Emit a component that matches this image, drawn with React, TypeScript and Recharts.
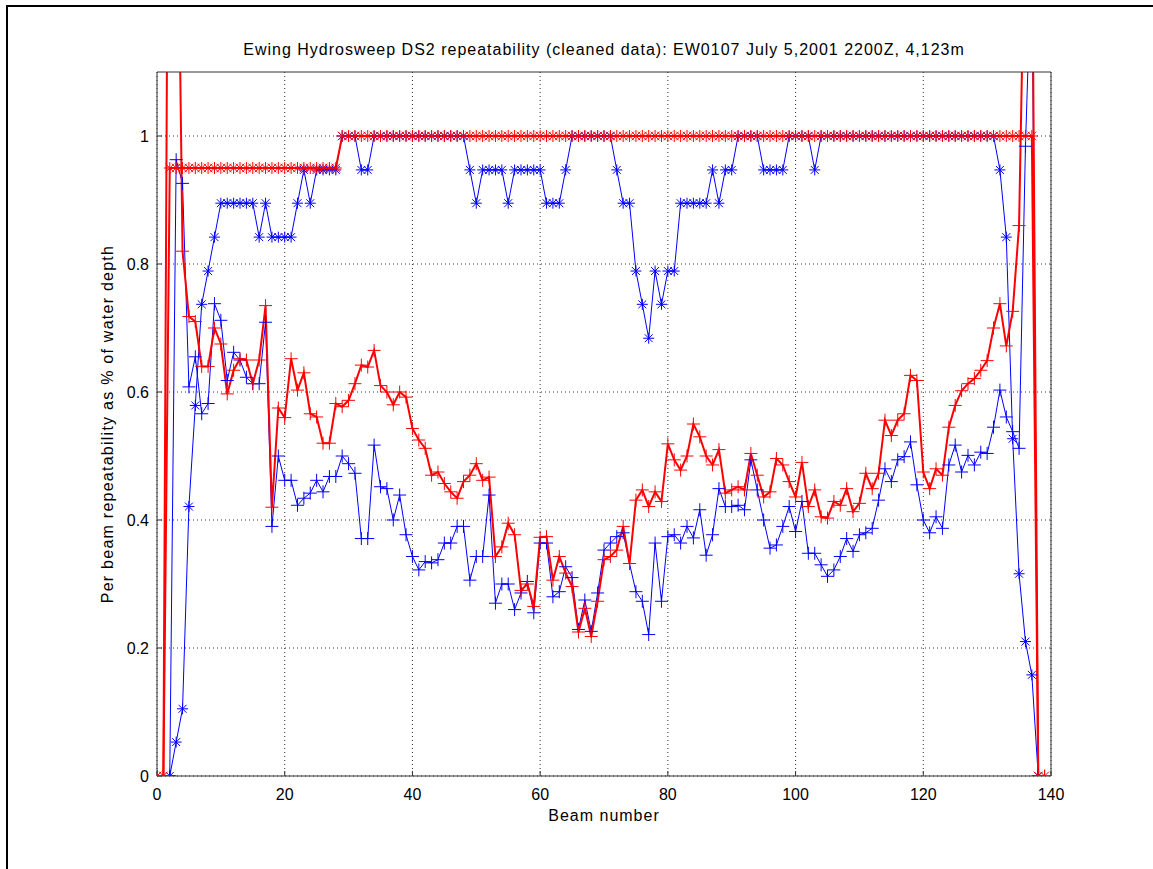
import { CartesianGrid, Line, LineChart, XAxis, YAxis } from "recharts";

// beam index 0..139 along the swath
const beams = Array.from({ length: 140 }, (_, i) => i);

// fraction of soundings within tolerance (top curves)
const blueStar = [
  null, null, 0, 0.053, 0.105, 0.421, 0.579, 0.737, 0.789, 0.842,
  0.895, 0.895, 0.895, 0.895, 0.895, 0.895, 0.842, 0.895, 0.842, 0.842,
  0.842, 0.842, 0.895, 0.947, 0.895, 0.947, 0.947, 0.947, 0.947, 1,
  1, 1, 0.947, 0.947, 1, 1, 1, 1, 1, 1,
  1, 1, 1, 1, 1, 1, 1, 1, 1, 0.947,
  0.895, 0.947, 0.947, 0.947, 0.947, 0.895, 0.947, 0.947, 0.947, 0.947,
  0.947, 0.895, 0.895, 0.895, 0.947, 1, 1, 1, 1, 1,
  1, 1, 0.947, 0.895, 0.895, 0.789, 0.737, 0.684, 0.789, 0.737,
  0.789, 0.789, 0.895, 0.895, 0.895, 0.895, 0.895, 0.947, 0.895, 0.947,
  0.947, 1, 1, 1, 1, 0.947, 0.947, 0.947, 0.947, 1,
  1, 1, 1, 0.947, 1, 1, 1, 1, 1, 1,
  1, 1, 1, 1, 1, 1, 1, 1, 1, 1,
  1, 1, 1, 1, 1, 1, 1, 1, 1, 1,
  1, 1, 0.947, 0.842, 0.527, 0.316, 0.21, 0.158, 0, null,
];

const redStar = [
  0, 0, 0.95, 0.95, 0.95, 0.95, 0.95, 0.95, 0.95, 0.95,
  0.95, 0.95, 0.95, 0.95, 0.95, 0.95, 0.95, 0.95, 0.95, 0.95,
  0.95, 0.95, 0.95, 0.95, 0.95, 0.95, 0.95, 0.95, 0.95, 1,
  1, 1, 1, 1, 1, 1, 1, 1, 1, 1,
  1, 1, 1, 1, 1, 1, 1, 1, 1, 1,
  1, 1, 1, 1, 1, 1, 1, 1, 1, 1,
  1, 1, 1, 1, 1, 1, 1, 1, 1, 1,
  1, 1, 1, 1, 1, 1, 1, 1, 1, 1,
  1, 1, 1, 1, 1, 1, 1, 1, 1, 1,
  1, 1, 1, 1, 1, 1, 1, 1, 1, 1,
  1, 1, 1, 1, 1, 1, 1, 1, 1, 1,
  1, 1, 1, 1, 1, 1, 1, 1, 1, 1,
  1, 1, 1, 1, 1, 1, 1, 1, 1, 1,
  1, 1, 1, 1, 1, 1, 1, 1, 0, 0,
];

// per beam repeatability, % of water depth
const bluePlus = [
  null, null, 0, 0.963, 0.926, 0.608, 0.655, 0.566, 0.582, 0.738,
  0.712, 0.618, 0.662, 0.65, 0.623, 0.613, 0.613, 0.709, 0.39, 0.5,
  0.462, 0.462, 0.423, 0.434, 0.442, 0.462, 0.444, 0.468, 0.468, 0.5,
  0.488, 0.473, 0.371, 0.371, 0.517, 0.452, 0.449, 0.4, 0.439, 0.377,
  0.343, 0.322, 0.335, 0.333, 0.338, 0.364, 0.364, 0.39, 0.39, 0.306,
  0.343, 0.343, 0.439, 0.27, 0.3, 0.3, 0.26, 0.286, 0.304, 0.255,
  0.364, 0.364, 0.28, 0.288, 0.327, 0.31, 0.229, 0.275, 0.226, 0.286,
  0.353, 0.364, 0.374, 0.38, 0.332, 0.288, 0.273, 0.221, 0.364, 0.273,
  0.374, 0.377, 0.364, 0.39, 0.372, 0.416, 0.345, 0.377, 0.449, 0.421,
  0.421, 0.423, 0.416, 0.494, 0.447, 0.4, 0.356, 0.361, 0.39, 0.421,
  0.382, 0.429, 0.348, 0.348, 0.33, 0.312, 0.322, 0.343, 0.371, 0.351,
  0.377, 0.38, 0.387, 0.431, 0.48, 0.46, 0.494, 0.499, 0.522, 0.455,
  0.4, 0.38, 0.405, 0.387, 0.486, 0.517, 0.475, 0.501, 0.486, 0.506,
  0.504, 0.545, 0.603, 0.561, 0.538, 0.512, 0.984, 1.3, 0, null,
];

const redPlus = [
  0, 0, 2.0, 1.6, 0.82, 0.718, 0.71, 0.64, 0.64, 0.7,
  0.675, 0.597, 0.634, 0.652, 0.65, 0.613, 0.65, 0.735, 0.42, 0.575,
  0.56, 0.652, 0.603, 0.63, 0.566, 0.561, 0.52, 0.52, 0.582, 0.577,
  0.587, 0.613, 0.642, 0.639, 0.665, 0.61, 0.6, 0.58, 0.6, 0.592,
  0.543, 0.525, 0.512, 0.47, 0.475, 0.457, 0.444, 0.434, 0.46, 0.47,
  0.488, 0.462, 0.467, 0.343, 0.358, 0.395, 0.377, 0.29, 0.3, 0.265,
  0.373, 0.374, 0.306, 0.343, 0.317, 0.296, 0.225, 0.262, 0.218, 0.273,
  0.338, 0.343, 0.353, 0.39, 0.332, 0.431, 0.447, 0.421, 0.444, 0.429,
  0.519, 0.494, 0.478, 0.5, 0.55, 0.53, 0.5, 0.486, 0.51, 0.442,
  0.447, 0.452, 0.447, 0.504, 0.47, 0.436, 0.444, 0.496, 0.486, 0.46,
  0.436, 0.49, 0.421, 0.447, 0.405, 0.403, 0.429, 0.423, 0.449, 0.413,
  0.426, 0.473, 0.449, 0.473, 0.556, 0.532, 0.556, 0.566, 0.626, 0.618,
  0.475, 0.449, 0.48, 0.47, 0.545, 0.579, 0.602, 0.613, 0.621, 0.634,
  0.649, 0.7, 0.738, 0.672, 0.726, 0.86, 1.4, 1.4, 0, 0,
];

const xTicks = [0, 20, 40, 60, 80, 100, 120, 140];
const yTicks = [0, 0.2, 0.4, 0.6, 0.8, 1];

const data = beams.map((beam, i) => ({
  beam,
  blueStar: blueStar[i],
  redStar: redStar[i],
  bluePlus: bluePlus[i],
  redPlus: redPlus[i],
}));

const FONT = "'Liberation Sans', Arial, Helvetica, sans-serif";
const BLUE = "#0000ff";
const RED = "#ff0000";

function plusMarker(color: string, size: number) {
  return (props: any) => {
    const { cx, cy, index } = props;
    if (cx == null || cy == null || !Number.isFinite(cy) || props.value == null) return <g key={`p${index}`} />;
    return (
      <path
        key={`p${index}`}
        d={`M${cx - size},${cy}H${cx + size}M${cx},${cy - size}V${cy + size}`}
        stroke={color}
        strokeWidth={1}
        fill="none"
      />
    );
  };
}

function starMarker(color: string, size: number) {
  return (props: any) => {
    const { cx, cy, index } = props;
    if (cx == null || cy == null || !Number.isFinite(cy) || props.value == null) return <g key={`s${index}`} />;
    const d = size * 0.72;
    return (
      <path
        key={`s${index}`}
        d={`M${cx - size},${cy}H${cx + size}M${cx},${cy - size}V${cy + size}M${cx - d},${cy - d}L${cx + d},${cy + d}M${cx - d},${cy + d}L${cx + d},${cy - d}`}
        stroke={color}
        strokeWidth={1}
        fill="none"
      />
    );
  };
}

const fmtY = (v: number) => (v === 0 ? "0" : v === 1 ? "1" : String(v));

const labelStyle = { fontSize: 16, letterSpacing: 1, color: "#000" } as const;

export default function App() {
  return (
    <div style={{ position: "absolute", left: 0, top: 0, width: 1153, height: 869, background: "#fff", overflow: "hidden", fontFamily: FONT }}>
      {/* figure frame */}
      <div style={{ position: "absolute", left: 6, top: 5, width: 1200, height: 900, borderLeft: "2px solid #000", borderTop: "2px solid #000" }} />

      <div style={{ position: "absolute", left: 0, top: 41, width: 1208, textAlign: "center", ...labelStyle }}>
        Ewing Hydrosweep DS2 repeatability (cleaned data): EW0107 July 5,2001 2200Z, 4,123m
      </div>
      <div style={{ position: "absolute", left: 0, top: 807, width: 1208, textAlign: "center", ...labelStyle }}>
        Beam number
      </div>
      <div
        style={{
          position: "absolute",
          left: 108,
          top: 424,
          transform: "translate(-50%, -50%) rotate(-90deg)",
          whiteSpace: "nowrap",
          ...labelStyle,
          letterSpacing: 1.25,
        }}
      >
        Per beam repeatability as % of water depth
      </div>

      <div style={{ position: "absolute", left: 0, top: 0 }}>
        <LineChart width={1153} height={869} data={data} margin={{ top: 71, right: 101, bottom: 63, left: 117 }}>
          <CartesianGrid stroke="#333" strokeDasharray="1 3" verticalValues={xTicks} horizontalValues={yTicks} />
          <XAxis
            dataKey="beam"
            type="number"
            domain={[0, 140]}
            ticks={xTicks}
            allowDataOverflow
            height={30}
            tickSize={-5}
            tickMargin={18}
            stroke="#333"
            tick={{ fill: "#000", fontSize: 16, fontFamily: FONT }}
          />
          <XAxis xAxisId="top" orientation="top" dataKey="beam" type="number" domain={[0, 140]} ticks={xTicks} height={1} tickSize={-5} tick={false} stroke="#333" />
          <YAxis
            type="number"
            domain={[0, 1.1]}
            ticks={yTicks}
            allowDataOverflow
            width={40}
            tickSize={-5}
            tickMargin={13}
            tickFormatter={fmtY}
            stroke="#333"
            tick={{ fill: "#000", fontSize: 16, fontFamily: FONT }}
          />
          <YAxis yAxisId="right" orientation="right" domain={[0, 1.1]} ticks={yTicks} width={1} tickSize={-5} tick={false} stroke="#333" />

          <Line dataKey="blueStar" stroke={BLUE} strokeWidth={1} dot={starMarker(BLUE, 5.5)} isAnimationActive={false} />
          <Line dataKey="bluePlus" stroke={BLUE} strokeWidth={1} dot={plusMarker(BLUE, 6.5)} isAnimationActive={false} />
          <Line dataKey="redStar" stroke={RED} strokeWidth={2} dot={starMarker(RED, 6)} isAnimationActive={false} />
          <Line dataKey="redPlus" stroke={RED} strokeWidth={2} dot={plusMarker(RED, 6.5)} isAnimationActive={false} />
        </LineChart>
      </div>
    </div>
  );
}
